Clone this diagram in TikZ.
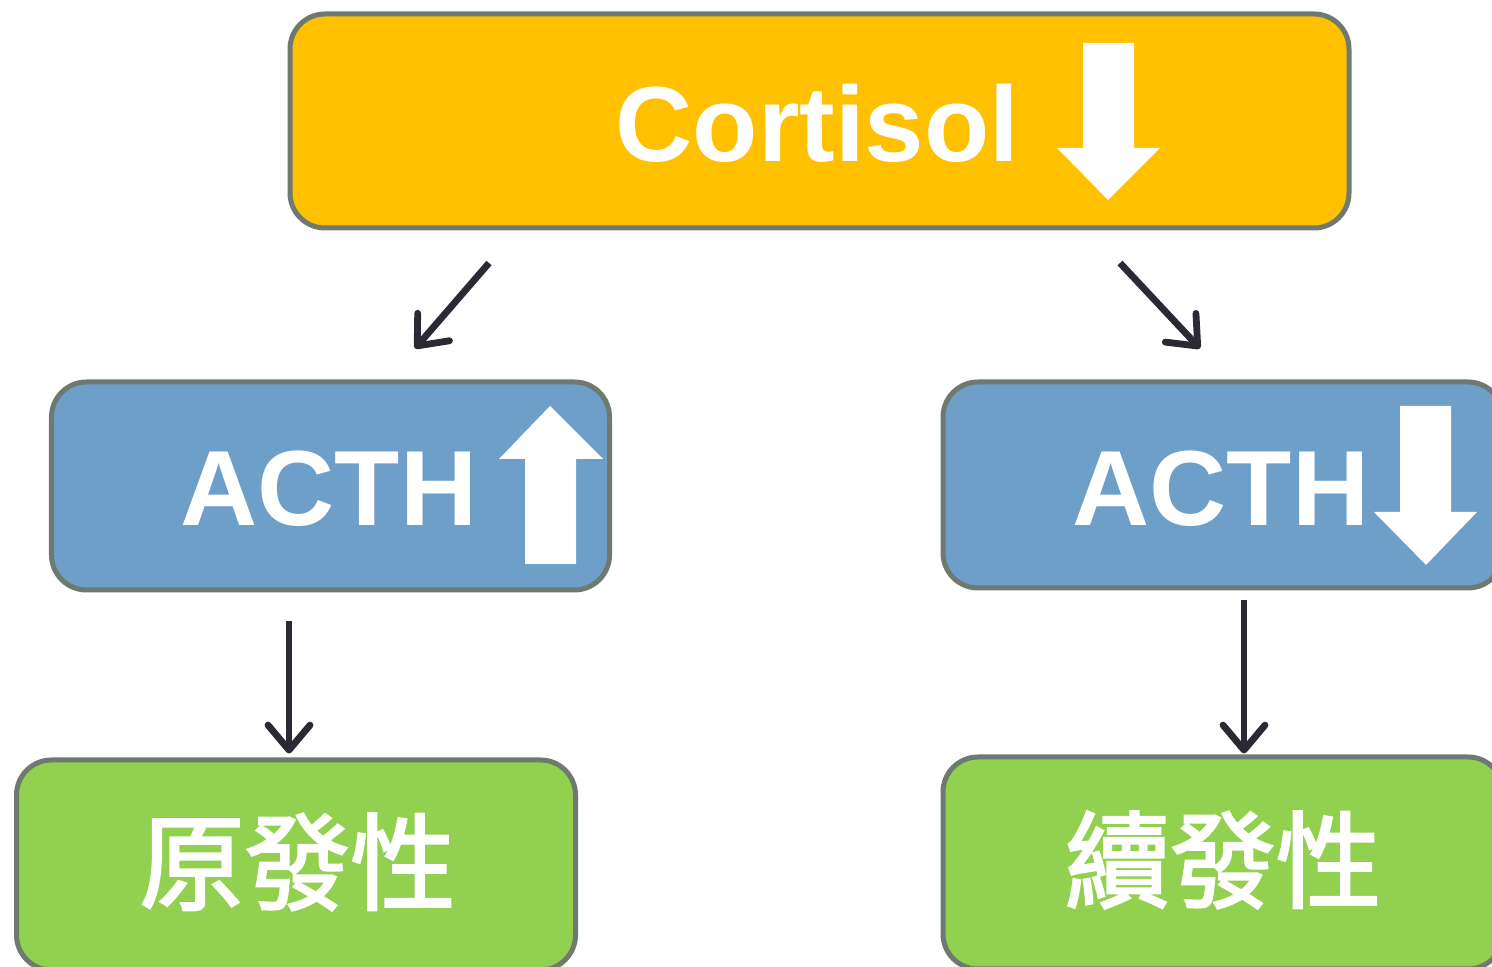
\documentclass[tikz,border=0pt]{standalone}
\usepackage{fontspec}
\setmainfont{Liberation Sans}
\newfontfamily\cjk{Noto Sans CJK TC}[FakeBold=2.2]
\usepackage{tikz}
\usetikzlibrary{positioning}
\usetikzlibrary{arrows.meta}
\usetikzlibrary{calc}

\definecolor{cortisolfill}{HTML}{FFC000}
\definecolor{acthfill}{HTML}{6D9FC9}
\definecolor{typefill}{HTML}{92D050}
\definecolor{edgegray}{HTML}{6E7A70}
\definecolor{connink}{HTML}{2A2A35}

\begin{document}
\begin{tikzpicture}[
    box/.style={
        draw=edgegray,
        line width=0.05cm,
        rounded corners=0.35cm,
        inner sep=0pt
    },
    label/.style={
        text=white,
        font=\fontsize{30.4}{36}\selectfont\bfseries,
        inner sep=0pt
    },
    cjklabel/.style={
        text=white,
        font=\fontsize{30}{36}\selectfont\cjk,
        inner sep=0pt
    },
    blockarrow/.style={
        fill=white
    },
    conn/.style={
        draw=connink,
        line width=0.068cm,
        -{Straight Barb[round,length=0.25cm,width=0.42cm]}
    }
]
\useasboundingbox (0,0) rectangle (14.92,9.67);

% --- Top
\node[box, fill=cortisolfill, minimum width=10.59cm, minimum height=2.14cm] (cortisol) at (8.195,8.46) {};
\node[label, anchor=base] (cortisoltext) at (8.175,8.05) {Cortisol};
\fill[blockarrow] (10.83,9.24) -- (11.34,9.24) -- (11.34,8.19) -- (11.60,8.19)
    -- (11.08,7.67) -- (10.57,8.19) -- (10.83,8.19) -- cycle;

% --- Middle left
\node[box, fill=acthfill, minimum width=5.58cm, minimum height=2.08cm] (acthhigh) at (3.305,4.81) {};
\node[label, anchor=base] (acthhightext) at (3.29,4.41) {ACTH};
\fill[blockarrow] (5.25,4.03) -- (5.76,4.03) -- (5.76,5.08) -- (6.03,5.08)
    -- (5.50,5.61) -- (4.99,5.08) -- (5.25,5.08) -- cycle;

% --- Middle right
\node[box, fill=acthfill, minimum width=5.60cm, minimum height=2.06cm] (acthlow) at (12.23,4.82) {};
\node[label, anchor=base] (acthlowtext) at (12.21,4.41) {ACTH};
\fill[blockarrow] (14.00,5.61) -- (14.51,5.61) -- (14.51,4.55) -- (14.77,4.55)
    -- (14.26,4.02) -- (13.74,4.55) -- (14.00,4.55) -- cycle;

% --- Bottom
\node[box, fill=typefill, minimum width=5.59cm, minimum height=2.10cm] (primary) at (2.96,1.02) {};
\node[cjklabel] (primarytext) at (2.975,1.05) {原發性};

\node[box, fill=typefill, minimum width=5.60cm, minimum height=2.12cm] (secondary) at (12.23,1.04) {};
\node[cjklabel] (secondarytext) at (12.23,1.07) {續發性};

% --- Connections
\draw[conn] ([xshift=-3.305cm,yshift=-0.325cm]cortisol.south) -- ([xshift=0.845cm,yshift=0.31cm]acthhigh.north);
\draw[conn] ([xshift=3.005cm,yshift=-0.325cm]cortisol.south) -- ([xshift=-0.23cm,yshift=0.31cm]acthlow.north);
\draw[conn] ([xshift=-0.415cm,yshift=-0.29cm]acthhigh.south) -- ([xshift=-0.07cm,yshift=0.04cm]primary.north);
\draw[conn] ([xshift=0.21cm,yshift=-0.10cm]acthlow.south) -- ([xshift=0.21cm,yshift=0.01cm]secondary.north);

\end{tikzpicture}
\end{document}
